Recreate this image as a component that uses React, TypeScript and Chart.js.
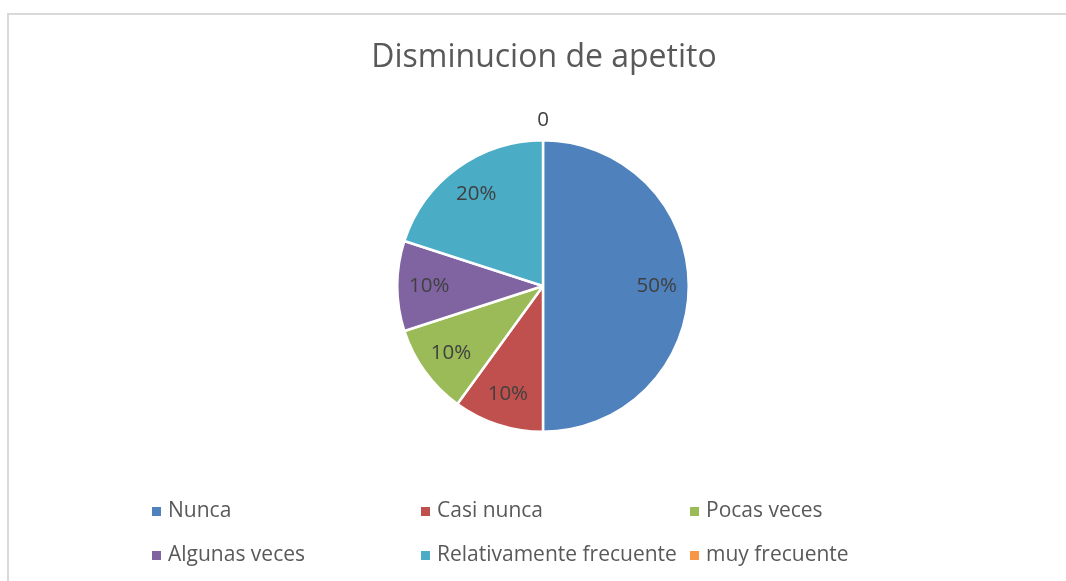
import React, { useEffect, useRef } from "react";
import { Chart, registerables } from "chart.js";

Chart.register(...registerables);

const title = "Disminucion de apetito";
const categories = [
  "Nunca",
  "Casi nunca",
  "Pocas veces",
  "Algunas veces",
  "Relativamente frecuente",
  "muy frecuente",
];
const values = [5, 1, 1, 1, 2, 0];
const colors = ["#4F81BD", "#C0504D", "#9BBB59", "#8064A2", "#4BACC6", "#F79646"];

const FONT = "'Open Sans', Lato, sans-serif";
const TEXT = "#404040";

const total = values.reduce((a, b) => a + b, 0);
const pctLabels = values.map((v) => (v === 0 ? "0" : Math.round((v / total) * 100) + "%"));

const overlay = {
  id: "overlay",
  afterDraw(chart: any) {
    const ctx = chart.ctx as CanvasRenderingContext2D;
    ctx.save();
    // frame
    ctx.strokeStyle = "#d9d9d9";
    ctx.lineWidth = 2;
    ctx.beginPath();
    ctx.moveTo(8, 700);
    ctx.lineTo(8, 14);
    ctx.lineTo(1200, 14);
    ctx.stroke();

    // title
    ctx.fillStyle = "#595959";
    ctx.font = `32px ${FONT}`;
    ctx.textAlign = "center";
    ctx.textBaseline = "alphabetic";
    ctx.fillText(title, 544, 67);

    // data labels
    const meta = chart.getDatasetMeta(0);
    ctx.font = `20.5px ${FONT}`;
    ctx.fillStyle = TEXT;
    ctx.textBaseline = "middle";
    meta.data.forEach((arc: any, i: number) => {
      const p = arc.getProps(["x", "y", "startAngle", "endAngle", "outerRadius"], true);
      const mid = (p.startAngle + p.endAngle) / 2;
      const d = values[i] === 0 ? p.outerRadius + 20 : p.outerRadius * 0.78;
      const x = p.x + Math.cos(mid) * d;
      const y = p.y + Math.sin(mid) * d;
      ctx.fillText(pctLabels[i], x, y);
    });

    // legend
    const cols = [152, 421, 690];
    const rows = [517, 561];
    ctx.font = `21px ${FONT}`;
    ctx.textAlign = "left";
    ctx.textBaseline = "alphabetic";
    categories.forEach((c, i) => {
      const cx = cols[i % 3];
      const by = rows[Math.floor(i / 3)];
      ctx.fillStyle = colors[i];
      ctx.fillRect(cx, by - 10, 9, 9);
      ctx.fillStyle = "#595959";
      ctx.fillText(c, cx + 16, by);
    });
    ctx.restore();
  },
};

export default function App() {
  const ref = useRef<HTMLCanvasElement>(null);
  useEffect(() => {
    if (!ref.current) return;
    const chart = new Chart(ref.current, {
      type: "pie",
      data: {
        labels: categories,
        datasets: [
          {
            data: values,
            backgroundColor: colors,
            borderColor: "#ffffff",
            borderWidth: 2.5,
          },
        ],
      },
      options: {
        responsive: true,
        maintainAspectRatio: false,
        animation: false,
        layout: { padding: { top: 139, bottom: 148, left: 396, right: 376 } },
        plugins: {
          legend: { display: false },
          title: { display: false },
          tooltip: { enabled: false },
        },
      },
      plugins: [overlay],
    });
    return () => chart.destroy();
  }, []);
  return (
    <div style={{ position: "fixed", left: 0, top: 0, width: 1066, height: 581, background: "#fff" }}>
      <canvas ref={ref} />
    </div>
  );
}
